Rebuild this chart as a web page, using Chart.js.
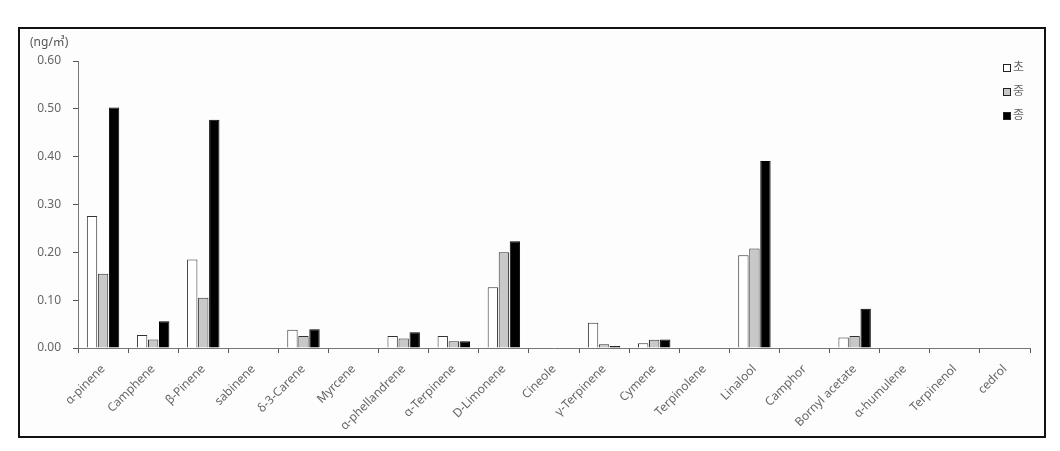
<!DOCTYPE html>
<html lang="ko">
<head>
  <meta charset="UTF-8">
  <title>Terpene concentration</title>
  <script src="https://cdn.jsdelivr.net/npm/chart.js"></script>
  <style>
    body { margin: 0; background: #ffffff; }
    .moldura {
      position: absolute;
      left: 18px; top: 27px;
      width: 1024px; height: 407px;
      border: 2px solid #111;
      background: #fdfdfd;
    }
  </style>
</head>
<body>
  <div class="moldura">
    <canvas id="grafico" width="1024" height="407"></canvas>
  </div>
<script>
  // categorias (compostos)
  const compostos = ['α-pinene', 'Camphene', 'β-Pinene', 'sabinene', 'δ-3-Carene', 'Myrcene',
    'α-phellandrene', 'α-Terpinene', 'D-Limonene', 'Cineole', 'γ-Terpinene', 'Cymene',
    'Terpinolene', 'Linalool', 'Camphor', 'Bornyl acetate', 'α-humulene', 'Terpinenol', 'cedrol'];

  // series (ng/㎥)
  const serieCho = [0.276, 0.027, 0.185, 0, 0.038, 0, 0.025, 0.025, 0.127, 0, 0.053, 0.010, 0, 0.194, 0, 0.022, 0, 0, 0];
  const serieJung = [0.155, 0.018, 0.105, 0, 0.025, 0, 0.020, 0.014, 0.200, 0, 0.008, 0.017, 0, 0.208, 0, 0.025, 0, 0, 0];
  const serieJong = [0.503, 0.056, 0.477, 0, 0.039, 0, 0.033, 0.014, 0.223, 0, 0.004, 0.018, 0, 0.391, 0, 0.082, 0, 0, 0];

  const nomesSeries = ['초', '중', '종'];
  const unidade = '(ng/㎥)';

  const fonte = "'Noto Sans', 'Noto Sans CJK KR', sans-serif";

  // legenda e unidade desenhadas à mão
  const extras = {
    id: 'extras',
    afterDraw(chart) {
      const ctx = chart.ctx;
      ctx.save();
      ctx.font = '12px ' + fonte;
      ctx.fillStyle = '#555';
      ctx.textBaseline = 'middle';
      ctx.fillText(unidade, 10, 14);

      const x0 = 983;
      chart.data.datasets.forEach(function (ds, i) {
        const y = 39 + i * 24;
        ctx.fillStyle = ds.backgroundColor;
        ctx.fillRect(x0, y - 4, 8, 8);
        ctx.strokeStyle = '#222';
        ctx.lineWidth = 1;
        ctx.strokeRect(x0 + 0.5, y - 3.5, 7, 7);
        ctx.fillStyle = '#666';
        ctx.fillText(ds.label, x0 + 10, y);
      });
      ctx.restore();
    }
  };

  const dados = {
    labels: compostos,
    datasets: [
      { label: nomesSeries[0], data: serieCho, backgroundColor: '#ffffff', borderColor: '#333', borderWidth: 1 },
      { label: nomesSeries[1], data: serieJung, backgroundColor: '#c8c8c8', borderColor: '#333', borderWidth: 1 },
      { label: nomesSeries[2], data: serieJong, backgroundColor: '#000000', borderColor: '#000', borderWidth: 1 }
    ]
  };

  new Chart(document.getElementById('grafico'), {
    type: 'bar',
    data: dados,
    options: {
      responsive: false,
      animation: false,
      layout: { padding: { top: 32, right: 14, left: 0, bottom: 0 } },
      datasets: { bar: { categoryPercentage: 0.66, barPercentage: 0.94 } },
      plugins: { legend: { display: false }, tooltip: { enabled: false } },
      scales: {
        x: {
          afterFit: function (s) { s.height = 88; },
          border: { color: '#777', width: 1 },
          grid: { display: true, offset: true, drawOnChartArea: false, drawTicks: true, tickLength: 5, color: '#555' },
          ticks: { minRotation: 45, maxRotation: 45, color: '#666', font: { family: fonte, size: 12 }, padding: 9 }
        },
        y: {
          min: 0, max: 0.6,
          afterFit: function (s) { s.width = 58; },
          border: { color: '#777', width: 1 },
          grid: { display: true, drawOnChartArea: false, drawTicks: true, tickLength: 5, color: '#555' },
          ticks: {
            stepSize: 0.1, color: '#666', font: { family: fonte, size: 12 }, padding: 12,
            callback: function (v) { return Number(v).toFixed(2); }
          }
        }
      }
    },
    plugins: [extras]
  });
</script>
</body>
</html>
